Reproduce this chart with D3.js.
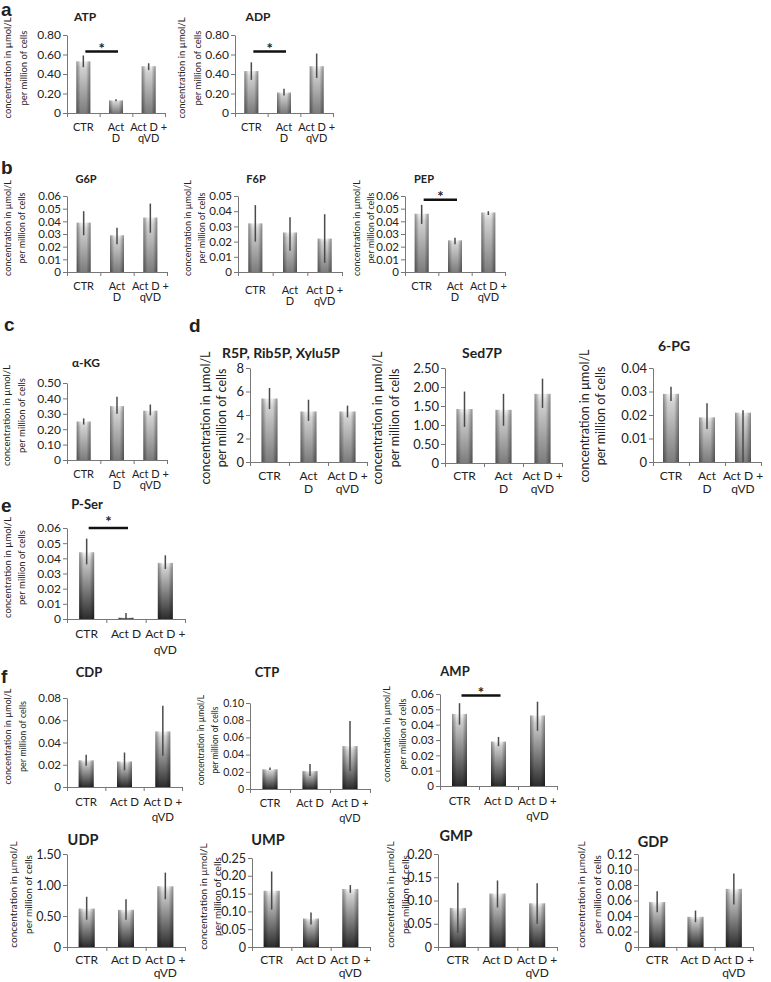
<!DOCTYPE html>
<html>
<head>
<meta charset="utf-8">
<script src="https://cdn.jsdelivr.net/npm/d3@7"></script>
<style>
  body { margin: 0; background: #fff; }
  svg { display: block; }
  text { font-family: Lato, "Open Sans", sans-serif; fill: #222; }
</style>
</head>
<body>
<script>
// categories + the two ways the x labels get wrapped
const categories = ["CTR", "Act D", "Act D + qVD"];
const labelsNarrow = [["CTR"], ["Act", "D"], ["Act D +", "qVD"]];
const labelsWide = [["CTR"], ["Act D"], ["Act D +", "qVD"]];

// means and error bar ends [low, high]
const atpMean = [0.53, 0.13, 0.48];
const atpErr = [[0.47, 0.59], [0.12, 0.14], [0.44, 0.51]];
const adpMean = [0.43, 0.21, 0.48];
const adpErr = [[0.34, 0.52], [0.18, 0.25], [0.36, 0.61]];

const g6pMean = [0.039, 0.029, 0.043];
const g6pErr = [[0.029, 0.048], [0.022, 0.035], [0.031, 0.054]];
const f6pMean = [0.032, 0.026, 0.022];
const f6pErr = [[0.020, 0.044], [0.014, 0.036], [0.006, 0.038]];
const pepMean = [0.046, 0.025, 0.047];
const pepErr = [[0.038, 0.053], [0.022, 0.027], [0.045, 0.048]];

const akgMean = [0.25, 0.35, 0.32];
const akgErr = [[0.23, 0.27], [0.30, 0.41], [0.29, 0.36]];

const r5pMean = [5.4, 4.3, 4.3];
const r5pErr = [[4.5, 6.3], [3.5, 5.3], [3.8, 4.8]];
const sed7pMean = [1.42, 1.40, 1.82];
const sed7pErr = [[0.95, 1.88], [0.98, 1.82], [1.45, 2.22]];
const pgMean = [0.029, 0.019, 0.021];
const pgErr = [[0.026, 0.032], [0.014, 0.025], [0.0, 0.022]];

const pserMean = [0.044, 0.001, 0.037];
const pserErr = [[0.036, 0.053], [0.0, 0.004], [0.033, 0.042]];

const cdpMean = [0.024, 0.023, 0.050];
const cdpErr = [[0.019, 0.029], [0.015, 0.031], [0.028, 0.073]];
const ctpMean = [0.023, 0.021, 0.050];
const ctpErr = [[0.022, 0.025], [0.015, 0.029], [0.021, 0.079]];
const ampMean = [0.047, 0.029, 0.046];
const ampErr = [[0.040, 0.054], [0.026, 0.032], [0.036, 0.055]];

const udpMean = [0.62, 0.60, 0.98];
const udpErr = [[0.44, 0.81], [0.44, 0.77], [0.77, 1.20]];
const umpMean = [0.158, 0.080, 0.163];
const umpErr = [[0.105, 0.212], [0.063, 0.097], [0.152, 0.174]];
const gmpMean = [0.084, 0.115, 0.094];
const gmpErr = [[0.030, 0.138], [0.085, 0.143], [0.050, 0.137]];
const gdpMean = [0.058, 0.039, 0.075];
const gdpErr = [[0.045, 0.072], [0.032, 0.047], [0.055, 0.095]];

const yLabel = ["concentration in \u00b5mol/L", "per million of cells"];

const W = 771, H = 982;
const svg = d3.select("body").append("svg").attr("width", W).attr("height", H);

// bar shading, light one for a-d, darker one for e-f
const defs = svg.append("defs");
function vgrad(id, stops) {
  const g = defs.append("linearGradient").attr("id", id)
    .attr("x1", 0).attr("y1", 0).attr("x2", 0).attr("y2", 1);
  stops.forEach(s => g.append("stop").attr("offset", s[0]).attr("stop-color", s[1]));
}
vgrad("vL", [[0, "#eeeeee"], [0.12, "#d2d2d2"], [1, "#7c7c7c"]]);
vgrad("vD", [[0, "#f2f2f2"], [0.1, "#cfcfcf"], [1, "#2c2c2c"]]);
const hg = defs.append("linearGradient").attr("id", "edge")
  .attr("x1", 0).attr("y1", 0).attr("x2", 1).attr("y2", 0);
[[0, 0.4], [0.3, 0], [0.7, 0], [1, 0.4]].forEach(s =>
  hg.append("stop").attr("offset", s[0]).attr("stop-color", "#000").attr("stop-opacity", s[1]));

// panel letters
const letters = [["a", 1, 9], ["b", 1, 167], ["c", 4, 324], ["d", 189, 325], ["e", 1, 505], ["f", 1, 676]];
svg.selectAll("text.letter").data(letters).join("text")
  .attr("class", "letter")
  .attr("x", d => d[1]).attr("y", d => d[2]).attr("dy", "0.35em")
  .style("font-family", "'Liberation Sans', Arial, sans-serif")
  .style("font-weight", "bold").style("font-size", "19px")
  .text(d => d[0]);

// one entry per small chart (layout only, values come from the arrays above)
const charts = [
  {title: "ATP", mean: atpMean, err: atpErr, max: 0.8, step: 0.2, dec: 2, x0: 67, x1: 165, yTop: 35, yBot: 113,
   tx: 85, ty: 17, ts: 12, fs: 12, ls: 11, yl: [8, 24], yls: 9.5, labels: labelsNarrow, lg: 11, lo: 14, bw: 14, tone: "L", sig: 0.63},
  {title: "ADP", mean: adpMean, err: adpErr, max: 0.8, step: 0.2, dec: 2, x0: 235, x1: 333, yTop: 35, yBot: 113,
   tx: 258, ty: 17, ts: 12, fs: 12, ls: 11, yl: [182, 198], yls: 9.5, labels: labelsNarrow, lg: 11, lo: 14, bw: 14, tone: "L", sig: 0.63},

  {title: "G6P", mean: g6pMean, err: g6pErr, max: 0.06, step: 0.01, dec: 2, x0: 67, x1: 167, yTop: 196, yBot: 272,
   tx: 86, ty: 179, ts: 11, fs: 11.5, ls: 11, yl: [8, 22], yls: 9, labels: labelsNarrow, lg: 11, lo: 14, bw: 14, tone: "L"},
  {title: "F6P", mean: f6pMean, err: f6pErr, max: 0.05, step: 0.01, dec: 2, x0: 238, x1: 342, yTop: 196, yBot: 272,
   tx: 256, ty: 179, ts: 11, fs: 11.5, ls: 11, yl: [188, 202], yls: 9, labels: labelsNarrow, lg: 11, lo: 18, bw: 14, tone: "L"},
  {title: "PEP", mean: pepMean, err: pepErr, max: 0.06, step: 0.01, dec: 2, x0: 405, x1: 505, yTop: 196, yBot: 272,
   tx: 424, ty: 179, ts: 11, fs: 11.5, ls: 11, yl: [357, 371], yls: 9, labels: labelsNarrow, lg: 11, lo: 14, bw: 14, tone: "L", sig: 0.057},

  {title: "\u03b1-KG", mean: akgMean, err: akgErr, max: 0.5, step: 0.1, dec: 2, x0: 67, x1: 167, yTop: 383, yBot: 460,
   tx: 86, ty: 363, ts: 12, fs: 12, ls: 11, yl: [7, 22], yls: 9.5, labels: labelsNarrow, lg: 11, lo: 14, bw: 14, tone: "L"},
  {title: "R5P, Rib5P, Xylu5P", mean: r5pMean, err: r5pErr, max: 8, step: 2, dec: 0, x0: 250, x1: 367, yTop: 368, yBot: 462,
   tx: 281, ty: 353, ts: 14, fs: 13, ls: 12, yl: [206, 222], yls: 12.5, ym: 418, labels: labelsNarrow, lg: 12.5, lo: 14, bw: 16, tone: "L"},
  {title: "Sed7P", mean: sed7pMean, err: sed7pErr, max: 2.5, step: 0.5, dec: 2, x0: 445, x1: 562, yTop: 368, yBot: 463,
   tx: 482, ty: 353, ts: 14, fs: 13, ls: 12, yl: [378, 395], yls: 12.5, ym: 418, labels: labelsNarrow, lg: 12.5, lo: 13, bw: 16, tone: "L"},
  {title: "6-PG", mean: pgMean, err: pgErr, max: 0.04, step: 0.01, dec: 2, x0: 653, x1: 761, yTop: 368, yBot: 462,
   tx: 674, ty: 346, ts: 14, fs: 13, ls: 12, yl: [585, 601], yls: 12.5, ym: 416, labels: labelsNarrow, lg: 12.5, lo: 14, bw: 16, tone: "L"},

  {title: "P-Ser", mean: pserMean, err: pserErr, max: 0.06, step: 0.01, dec: 2, x0: 67, x1: 185, yTop: 528, yBot: 619,
   tx: 87, ty: 504, ts: 13, fs: 12, ls: 12, yl: [8, 22], yls: 9.5, labels: labelsWide, lg: 16, bw: 15, tone: "D", sig: 0.06, sdy: -12},

  {title: "CDP", mean: cdpMean, err: cdpErr, max: 0.08, step: 0.02, dec: 2, x0: 67, x1: 182, yTop: 698, yBot: 787,
   tx: 89, ty: 672, ts: 13, fs: 11.5, ls: 11.5, yl: [8, 23], yls: 9, labels: labelsWide, lg: 15, bw: 15, tone: "D"},
  {title: "CTP", mean: ctpMean, err: ctpErr, max: 0.1, step: 0.02, dec: 2, x0: 250, x1: 370, yTop: 703, yBot: 789,
   tx: 267, ty: 672, ts: 13, fs: 10.5, ls: 11, yl: [201, 215], yls: 8.5, labels: labelsWide, lg: 15, bw: 15, tone: "D"},
  {title: "AMP", mean: ampMean, err: ampErr, max: 0.06, step: 0.01, dec: 2, x0: 440, x1: 557, yTop: 694, yBot: 786,
   tx: 455, ty: 671, ts: 13, fs: 11.5, ls: 11.5, yl: [387, 403], yls: 9, labels: labelsWide, lg: 15, bw: 15, tone: "D", sig: 0.059},

  {title: "UDP", mean: udpMean, err: udpErr, max: 1.5, step: 0.5, dec: 2, x0: 67, x1: 185, yTop: 854, yBot: 947,
   tx: 83, ty: 840, ts: 14.5, fs: 12.5, ls: 12, yl: [13, 28], yls: 10, labels: labelsWide, lg: 13, lo: 12.5, bw: 16, tone: "D"},
  {title: "UMP", mean: umpMean, err: umpErr, max: 0.25, step: 0.05, dec: 2, x0: 252, x1: 370, yTop: 858, yBot: 947,
   tx: 268, ty: 840, ts: 14.5, fs: 12.5, ls: 12, yl: [203, 217], yls: 10, labels: labelsWide, lg: 13, lo: 12.5, bw: 16, tone: "D"},
  {title: "GMP", mean: gmpMean, err: gmpErr, max: 0.2, step: 0.05, dec: 2, x0: 438, x1: 557, yTop: 854, yBot: 947,
   tx: 456, ty: 836, ts: 14.5, fs: 12.5, ls: 12, yl: [390, 405], yls: 10, labels: labelsWide, lg: 13, lo: 12.5, bw: 16, tone: "D"},
  {title: "GDP", mean: gdpMean, err: gdpErr, max: 0.12, step: 0.02, dec: 2, x0: 638, x1: 753, yTop: 854, yBot: 947,
   tx: 653, ty: 842, ts: 14.5, fs: 12.5, ls: 12, yl: [581, 597], yls: 10, labels: labelsWide, lg: 13, lo: 12.5, bw: 16, tone: "D"}
];

charts.forEach(drawChart);

function drawChart(c) {
  const g = svg.append("g");
  const x = d3.scaleBand().domain(categories).range([c.x0, c.x1]);
  const y = d3.scaleLinear().domain([0, c.max]).range([c.yBot, c.yTop]);
  const cx = i => x(categories[i]) + x.bandwidth() / 2;

  // bars: vertical shade + darker edges on top
  ["url(#v" + c.tone + ")", "url(#edge)"].forEach(fill => {
    g.selectAll(null).data(c.mean).join("rect")
      .attr("x", (d, i) => cx(i) - c.bw / 2)
      .attr("y", d => y(d))
      .attr("width", c.bw)
      .attr("height", d => y(0) - y(d))
      .attr("fill", fill);
  });

  // error bars, no caps
  g.selectAll(null).data(c.err).join("line")
    .attr("x1", (d, i) => cx(i)).attr("x2", (d, i) => cx(i))
    .attr("y1", d => y(d[0])).attr("y2", d => y(d[1]))
    .attr("stroke", "#4a4a4a").attr("stroke-width", 1.5);

  // y axis
  const yAxis = d3.axisLeft(y)
    .tickValues(d3.range(0, c.max + c.step / 2, c.step))
    .tickSize(4).tickSizeOuter(0).tickPadding(2)
    .tickFormat(d => d === 0 ? "0" : d.toFixed(c.dec));
  const ya = g.append("g").attr("transform", "translate(" + c.x0 + ",0)").call(yAxis);
  ya.selectAll("path, line").attr("stroke", "#777");
  ya.selectAll("text").style("font-size", c.fs + "px").attr("fill", "#222")
    .style("font-family", "Lato, 'Open Sans', sans-serif");

  // x axis with ticks at category boundaries
  const xb = d3.scaleLinear().domain([0, categories.length]).range([c.x0, c.x1]);
  const xAxis = d3.axisBottom(xb).tickValues(d3.range(0, categories.length + 1))
    .tickSize(4).tickSizeOuter(0).tickFormat("");
  const xa = g.append("g").attr("transform", "translate(0," + c.yBot + ")").call(xAxis);
  xa.selectAll("path, line").attr("stroke", "#777");

  // category labels
  const ly = c.yBot + (c.lo || 14.5);
  c.labels.forEach((lines, i) => {
    lines.forEach((t, k) => {
      g.append("text").attr("x", cx(i)).attr("y", ly + k * c.lg).attr("dy", "0.35em")
        .attr("text-anchor", "middle").style("font-size", c.ls + "px").text(t);
    });
  });

  // title
  g.append("text").attr("x", c.tx).attr("y", c.ty).attr("dy", "0.35em")
    .attr("text-anchor", "middle").style("font-size", c.ts + "px").style("font-weight", "bold")
    .text(c.title);

  // y axis title, two lines
  const ym = c.ym || (c.yTop + c.yBot) / 2 - 6;
  yLabel.forEach((t, k) => {
    g.append("text").attr("transform", "translate(" + c.yl[k] + "," + ym + ") rotate(-90)")
      .attr("dy", "0.35em").attr("text-anchor", "middle")
      .style("font-size", c.yls + "px").attr("fill", "#333").text(t);
  });

  // significance bar between CTR and Act D
  if (c.sig !== undefined) {
    const sy = y(c.sig);
    g.append("line").attr("x1", cx(0) + 2).attr("x2", cx(1) + 2)
      .attr("y1", sy).attr("y2", sy).attr("stroke", "#111").attr("stroke-width", 2.5);
    g.append("text").attr("x", (cx(0) + cx(1)) / 2 + 2).attr("y", sy + (c.sdy || -8)).attr("dy", "0.7em")
      .attr("text-anchor", "middle").style("font-size", "15px").style("font-weight", "bold")
      .text("*");
  }
}
</script>
</body>
</html>
